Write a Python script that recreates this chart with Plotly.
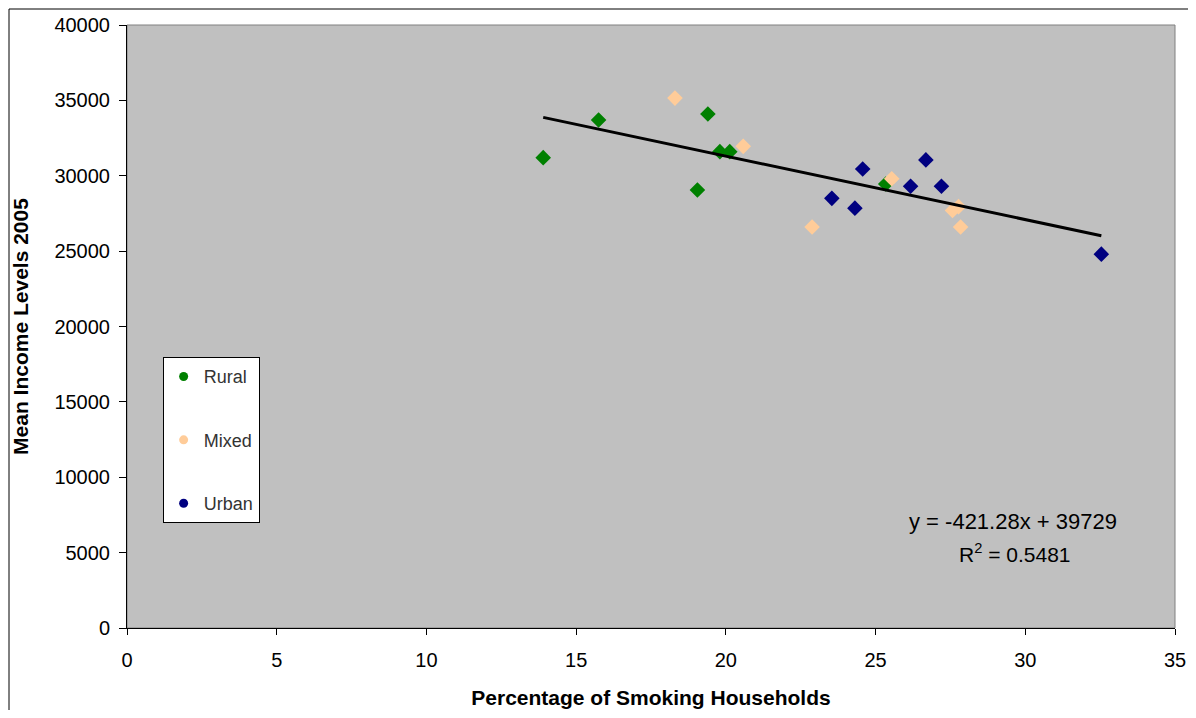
import plotly.graph_objects as go

rural_x = [13.9, 15.75, 19.4, 19.05, 19.8, 20.13, 25.34]
rural_y = [31200, 33700, 34100, 29050, 31600, 31600, 29450]
mixed_x = [18.3, 20.58, 22.88, 25.54, 27.57, 27.77, 27.84]
mixed_y = [35150, 31950, 26600, 29800, 27700, 27950, 26600]
urban_x = [23.54, 24.31, 24.57, 26.17, 26.68, 27.2, 32.54]
urban_y = [28500, 27850, 30450, 29300, 31050, 29300, 24800]
slope = -421.28
intercept = 39729
r2 = 0.5481

font = "Liberation Sans, Arial, sans-serif"
fig = go.Figure()
groups = [("Rural", rural_x, rural_y, "#008000"),
          ("Mixed", mixed_x, mixed_y, "#FFCC99"),
          ("Urban", urban_x, urban_y, "#000080")]
for name, xs, ys, col in groups:
    fig.add_trace(go.Scatter(x=xs, y=ys, mode="markers", name=name, legendgroup=name,
                             showlegend=False,
                             marker=dict(symbol="diamond", size=12, color=col)))
    # legend entry (circle glyph like the reference legend)
    fig.add_trace(go.Scatter(x=[None], y=[None], mode="markers", name=name, legendgroup=name,
                             marker=dict(symbol="circle", size=9, color=col)))

all_x = rural_x + mixed_x + urban_x
xmin, xmax = min(all_x), max(all_x)
fig.add_trace(go.Scatter(x=[xmin, xmax], y=[slope * xmin + intercept, slope * xmax + intercept],
                         mode="lines", line=dict(color="black", width=3), showlegend=False,
                         hoverinfo="skip"))

fig.add_annotation(x=0.845, y=0.176, xref="paper", yref="paper", showarrow=False,
                   text="y = -421.28x + 39729", font=dict(size=22, color="black", family=font),
                   xanchor="center", yanchor="middle")
fig.add_annotation(x=0.847, y=0.124, xref="paper", yref="paper", showarrow=False,
                   text="R<sup>2</sup> = %.4f" % r2, font=dict(size=21, color="black", family=font),
                   xanchor="center", yanchor="middle")

fig.update_layout(
    width=1188, height=702,
    margin=dict(l=119, r=21, t=17, b=82, autoexpand=False),
    paper_bgcolor="white", plot_bgcolor="#C0C0C0",
    font=dict(family=font, size=20, color="black"),
    legend=dict(x=0.034, y=0.449, xanchor="left", yanchor="top",
                bgcolor="white", bordercolor="black", borderwidth=1,
                tracegroupgap=37, font=dict(size=18, color="#333333"),
                itemwidth=30),
    xaxis=dict(range=[0, 35], dtick=5, showgrid=False, zeroline=False,
               showline=True, linecolor="black", linewidth=1,
               ticks="outside", ticklen=6, tickcolor="black", ticklabelstandoff=8,
               tickfont=dict(size=20),
               title=dict(text="<b>Percentage of Smoking Households</b>", font=dict(size=21), standoff=20)),
    yaxis=dict(range=[0, 40000], dtick=5000, tickformat="d", showgrid=False, zeroline=False,
               showline=True, linecolor="black", linewidth=1,
               ticks="outside", ticklen=7, tickcolor="black", ticklabelstandoff=5,
               tickfont=dict(size=20),
               title=dict(text="<b>Mean Income Levels 2005</b>", font=dict(size=21), standoff=20)),
    shapes=[
        dict(type="rect", xref="paper", yref="paper", x0=0, x1=1, y0=0, y1=1,
             line=dict(color="#808080", width=1), layer="below"),
        dict(type="rect", xref="paper", yref="paper", x0=-118/1048, x1=1+16/1048,
             y0=-95/603, y1=1+16/603, line=dict(color="black", width=1)),
    ],
)
fig.write_html("out.html")
